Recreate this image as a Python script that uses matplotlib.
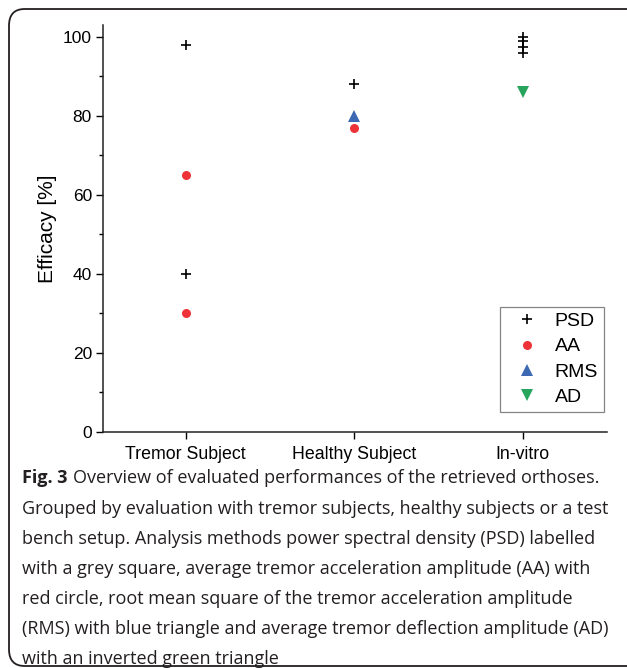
import matplotlib
matplotlib.use("Agg")
import matplotlib.pyplot as plt
from matplotlib.patches import FancyBboxPatch
from matplotlib.ticker import MultipleLocator

categories = ["Tremor Subject", "Healthy Subject", "In-vitro"]

psd_x = ["Tremor Subject", "Tremor Subject", "Healthy Subject", "In-vitro", "In-vitro", "In-vitro", "In-vitro"]
psd_y = [98, 40, 88, 100, 99, 97.5, 96]
aa_x = ["Tremor Subject", "Tremor Subject", "Healthy Subject"]
aa_y = [65, 30, 77]
rms_x = ["Healthy Subject"]
rms_y = [80]
ad_x = ["In-vitro"]
ad_y = [86]

caption_lines = [
    "Overview of evaluated performances of the retrieved orthoses.",
    "Grouped by evaluation with tremor subjects, healthy subjects or a test",
    "bench setup. Analysis methods power spectral density (PSD) labelled",
    "with a grey square, average tremor acceleration amplitude (AA) with",
    "red circle, root mean square of the tremor acceleration amplitude",
    "(RMS) with blue triangle and average tremor deflection amplitude (AD)",
    "with an inverted green triangle",
]

plt.rcParams["font.family"] = ["Liberation Sans", "DejaVu Sans"]

W, H = 627, 668
fig = plt.figure(figsize=(W / 100, H / 100), dpi=100)

# frame
frame = FancyBboxPatch((9 / W, 2 / H), 700 / W, (H - 11) / H,
                       boxstyle="round,pad=0,rounding_size=0.025",
                       transform=fig.transFigure, fill=False,
                       edgecolor="#231f20", linewidth=1.3, clip_on=False)
fig.patches.append(frame)

ax = fig.add_axes([103 / W, 1 - 432 / H, 504 / W, 407 / H])
pos = {c: i + 1 for i, c in enumerate(categories)}

ax.plot([pos[c] for c in psd_x], psd_y, linestyle="none", marker="+", color="black",
        markersize=7, markeredgewidth=1.2, label="PSD")
ax.plot([pos[c] for c in aa_x], aa_y, linestyle="none", marker="o", color="#ee3338",
        markersize=6.5, markeredgewidth=0, label="AA")
ax.plot([pos[c] for c in rms_x], rms_y, linestyle="none", marker="^", color="#3d68b3",
        markersize=8, markeredgewidth=0, label="RMS")
ax.plot([pos[c] for c in ad_x], ad_y, linestyle="none", marker="v", color="#27a55c",
        markersize=8, markeredgewidth=0, label="AD")

ax.set_xlim(0.51, 3.5)
ax.set_ylim(0, 103)
ax.set_xticks([pos[c] for c in categories])
ax.set_xticklabels(categories, fontsize=12.8)
ax.yaxis.set_major_locator(MultipleLocator(20))
ax.yaxis.set_minor_locator(MultipleLocator(10))
ax.tick_params(axis="y", which="major", direction="out", length=5, width=1, labelsize=12.5, pad=3)
ax.tick_params(axis="y", which="minor", direction="out", length=3, width=1)
ax.tick_params(axis="x", which="major", direction="out", length=5, width=1, pad=5)
for s in ["top", "right"]:
    ax.spines[s].set_visible(False)
for s in ["left", "bottom"]:
    ax.spines[s].set_linewidth(1.1)
    ax.spines[s].set_color("#222222")
ax.set_ylabel("Efficacy [%]", fontsize=15, labelpad=4)

leg = ax.legend(loc="lower right", bbox_to_anchor=(0.994, 0.049), borderaxespad=0,
                fancybox=False, edgecolor="#666666", fontsize=14, handletextpad=0.4,
                labelspacing=0.4, borderpad=0.3, handlelength=2.1)
leg.get_frame().set_linewidth(0.9)

# caption
cap_font = ["Open Sans", "DejaVu Sans"]
fs = 13
y0 = 1 - 483 / H
fig.text(22 / W, y0, "Fig. 3", fontsize=fs, fontweight="bold", family=cap_font,
         color="#231f20", va="baseline")
fig.text(73 / W, y0, caption_lines[0], fontsize=fs, family=cap_font,
         color="#231f20", va="baseline")
for i, line in enumerate(caption_lines[1:]):
    fig.text(22 / W, 1 - (514.5 + i * 29.9) / H, line, fontsize=fs, family=cap_font,
             color="#231f20", va="baseline")

fig.savefig("out.png", dpi=100)
